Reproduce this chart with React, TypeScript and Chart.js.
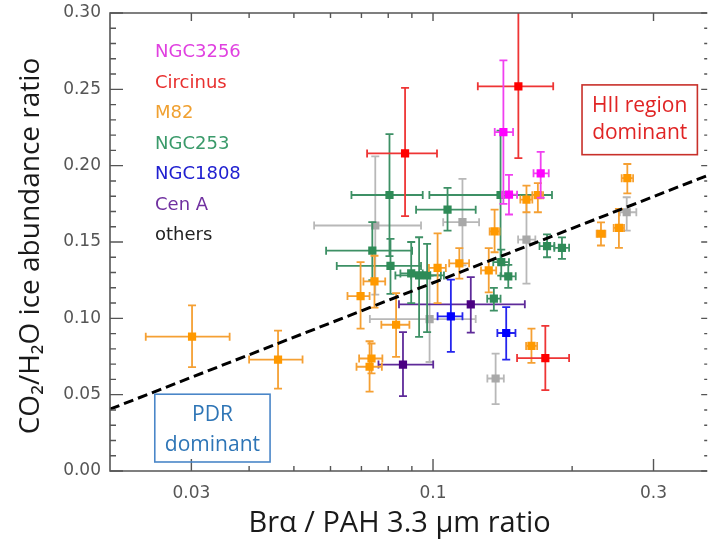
import React, { useEffect, useRef } from "react";
import { Chart, registerables } from "chart.js";
Chart.register(...registerables);

// each row: [x, y, xLow, xHigh, yLow, yHigh]
const ngc3256 = [
  [0.142, 0.222, 0.136, 0.149, 0.175, 0.269],
  [0.146, 0.181, 0.141, 0.152, 0.168, 0.194],
  [0.171, 0.195, 0.165, 0.178, 0.179, 0.209],
];
const circinus = [
  [0.153, 0.252, 0.125, 0.182, 0.205, 0.31],
  [0.087, 0.208, 0.072, 0.102, 0.167, 0.251],
  [0.175, 0.074, 0.152, 0.197, 0.053, 0.095],
];
const m82 = [
  [0.0301, 0.088, 0.0239, 0.0363, 0.068, 0.1085],
  [0.0462, 0.073, 0.04, 0.0522, 0.054, 0.092],
  [0.0697, 0.1146, 0.0653, 0.0729, 0.0933, 0.1368],
  [0.0747, 0.1242, 0.0707, 0.0788, 0.107, 0.141],
  [0.0736, 0.0737, 0.0692, 0.0777, 0.064, 0.0835],
  [0.0729, 0.0683, 0.0683, 0.0775, 0.052, 0.085],
  [0.0832, 0.0958, 0.0773, 0.0889, 0.0747, 0.1165],
  [0.1023, 0.133, 0.098, 0.1066, 0.11, 0.1556],
  [0.114, 0.136, 0.1084, 0.1197, 0.126, 0.146],
  [0.132, 0.1314, 0.127, 0.137, 0.117, 0.146],
  [0.1359, 0.1569, 0.1326, 0.1393, 0.1433, 0.1712],
  [0.1593, 0.1778, 0.1545, 0.164, 0.1695, 0.1869],
  [0.1686, 0.1807, 0.164, 0.173, 0.1695, 0.1886],
  [0.2633, 0.1918, 0.256, 0.271, 0.1819, 0.2011],
  [0.2525, 0.1592, 0.246, 0.259, 0.1462, 0.1717],
  [0.2309, 0.1554, 0.226, 0.236, 0.1477, 0.1629],
  [0.1633, 0.0819, 0.159, 0.168, 0.0708, 0.0933],
];
const ngc253 = [
  [0.0805, 0.1808, 0.0666, 0.095, 0.1407, 0.2207],
  [0.1075, 0.1712, 0.0919, 0.1237, 0.1575, 0.1854],
  [0.14, 0.1808, 0.0982, 0.1809, 0.1379, 0.2229],
  [0.0739, 0.1443, 0.0587, 0.0901, 0.125, 0.163],
  [0.0809, 0.1343, 0.0619, 0.0942, 0.116, 0.152],
  [0.0933, 0.1281, 0.0829, 0.104, 0.0878, 0.1531],
  [0.0971, 0.1281, 0.0897, 0.1056, 0.091, 0.1488],
  [0.0897, 0.1294, 0.085, 0.095, 0.11, 0.15],
  [0.1405, 0.1368, 0.135, 0.146, 0.128, 0.145],
  [0.1455, 0.1275, 0.14, 0.151, 0.12, 0.135],
  [0.1354, 0.1129, 0.131, 0.14, 0.105, 0.12],
  [0.1765, 0.1473, 0.17, 0.183, 0.14, 0.155],
  [0.1901, 0.1462, 0.183, 0.197, 0.139, 0.153],
];
const ngc1808 = [
  [0.1093, 0.1013, 0.1023, 0.1158, 0.078, 0.1253],
  [0.144, 0.0904, 0.1378, 0.1508, 0.073, 0.1074],
];
const cenA = [
  [0.1207, 0.1092, 0.0844, 0.158, 0.0907, 0.127],
  [0.0861, 0.0697, 0.0762, 0.1001, 0.049, 0.091],
];
const others = [
  [0.075, 0.1608, 0.0553, 0.0942, 0.1155, 0.2061],
  [0.1158, 0.163, 0.1052, 0.1258, 0.1347, 0.1913],
  [0.1593, 0.1516, 0.1528, 0.1665, 0.1227, 0.1805],
  [0.2625, 0.1695, 0.2537, 0.2754, 0.1575, 0.1793],
  [0.0983, 0.0995, 0.073, 0.1237, 0.0714, 0.1276],
  [0.1366, 0.0606, 0.1311, 0.1423, 0.0438, 0.0769],
];

const fitX = [0.02, 0.392];
const fitY = [0.0405, 0.1935];

const seriesNames = ["NGC3256", "Circinus", "M82", "NGC253", "NGC1808", "Cen A", "others"];
const seriesRows = [ngc3256, circinus, m82, ngc253, ngc1808, cenA, others];
const markerColors = ["#FF00FF", "#FF0000", "#FF9900", "#2E8B57", "#0000FF", "#4B0082", "#A8A8A8"];
const barColors = ["#F040F0", "#EE3535", "#F5A033", "#3D9065", "#2525EE", "#5E2A99", "#B8B8B8"];
const legendColors = ["#E040E0", "#E8302F", "#F0A030", "#3A9A6A", "#2020D0", "#7030A0", "#222222"];

const xMajorTicks = [0.03, 0.1, 0.3];
const xMinorTicks = [0.04, 0.05, 0.06, 0.07, 0.08, 0.09, 0.2];
const yMajorTicks = [0, 0.05, 0.1, 0.15, 0.2, 0.25, 0.3];

const xTitle = "Brα / PAH 3.3 μm ratio";
const yTitle = "CO₂/H₂O ice abundance ratio";

const errorBarPlugin = {
  id: "errorBars",
  beforeDatasetDraw(chart: any, args: any) {
    const ds: any = chart.data.datasets[args.index];
    if (!ds.errs) return;
    const { ctx, chartArea } = chart;
    const xs = chart.scales.x;
    const ys = chart.scales.y;
    ctx.save();
    ctx.beginPath();
    ctx.rect(chartArea.left, chartArea.top, chartArea.right - chartArea.left, chartArea.bottom - chartArea.top);
    ctx.clip();
    ctx.strokeStyle = ds.barColor;
    ctx.lineWidth = 1.8;
    const cap = 4;
    for (const r of ds.errs) {
      const px = xs.getPixelForValue(r[0]);
      const py = ys.getPixelForValue(r[1]);
      const x0 = xs.getPixelForValue(r[2]);
      const x1 = xs.getPixelForValue(r[3]);
      const y0 = ys.getPixelForValue(r[4]);
      const y1 = ys.getPixelForValue(r[5]);
      ctx.beginPath();
      ctx.moveTo(x0, py); ctx.lineTo(x1, py);
      ctx.moveTo(x0, py - cap); ctx.lineTo(x0, py + cap);
      ctx.moveTo(x1, py - cap); ctx.lineTo(x1, py + cap);
      ctx.moveTo(px, y0); ctx.lineTo(px, y1);
      ctx.moveTo(px - cap, y0); ctx.lineTo(px + cap, y0);
      ctx.moveTo(px - cap, y1); ctx.lineTo(px + cap, y1);
      ctx.stroke();
    }
    ctx.restore();
  },
};

const decorPlugin = {
  id: "decor",
  afterDraw(chart: any) {
    const { ctx, chartArea } = chart;
    const xs = chart.scales.x;
    const ys = chart.scales.y;
    const L = chartArea.left, R = chartArea.right, T = chartArea.top, B = chartArea.bottom;
    ctx.save();
    // frame
    ctx.strokeStyle = "#555555";
    ctx.lineWidth = 1.6;
    ctx.beginPath();
    ctx.moveTo(R, T); ctx.lineTo(L, T); ctx.lineTo(L, B); ctx.lineTo(R, B);
    ctx.stroke();
    // x ticks (bottom & top, inward)
    ctx.lineWidth = 1.4;
    ctx.beginPath();
    for (const v of xMajorTicks) {
      const p = xs.getPixelForValue(v);
      ctx.moveTo(p, B); ctx.lineTo(p, B - 12);
      ctx.moveTo(p, T); ctx.lineTo(p, T + 8);
    }
    for (const v of xMinorTicks) {
      const p = xs.getPixelForValue(v);
      ctx.moveTo(p, B); ctx.lineTo(p, B - 5);
      ctx.moveTo(p, T); ctx.lineTo(p, T + 5);
    }
    // y ticks (left & right, inward)
    for (let i = 0; i <= 30; i++) {
      const v = i / 100;
      const p = ys.getPixelForValue(v);
      const major = i % 5 === 0;
      ctx.moveTo(L, p); ctx.lineTo(L + (major ? 13 : 6), p);
      ctx.moveTo(R, p); ctx.lineTo(R - (major ? 6 : 3), p);
    }
    ctx.stroke();

    // legend text
    ctx.font = '18px "DejaVu Sans"';
    ctx.textAlign = "left";
    ctx.textBaseline = "middle";
    seriesNames.forEach((n, i) => {
      ctx.fillStyle = legendColors[i];
      ctx.fillText(n, L + 45, T + 39.5 + i * 30.5);
    });

    // region boxes
    const bx = (a: number, b: number, c: number, d: number) => [
      xs.getPixelForValue(a), ys.getPixelForValue(b), xs.getPixelForValue(c), ys.getPixelForValue(d),
    ];
    const h = bx(0.2101, 0.2529, 0.3733, 0.2072);
    ctx.strokeStyle = "#C8302A";
    ctx.lineWidth = 1.6;
    ctx.strokeRect(h[0], h[1], h[2] - h[0], h[3] - h[1]);
    ctx.fillStyle = "#E02424";
    ctx.font = '21px "Open Sans"';
    ctx.textAlign = "center";
    const hc = (h[0] + h[2]) / 2;
    ctx.fillText("HII region", hc, h[1] + 21);
    ctx.fillText("dominant", hc, h[1] + 48);

    const p = bx(0.025, 0.0503, 0.0444, 0.0059);
    ctx.strokeStyle = "#4A86C8";
    ctx.strokeRect(p[0], p[1], p[2] - p[0], p[3] - p[1]);
    ctx.fillStyle = "#2E75B6";
    const pc = (p[0] + p[2]) / 2;
    ctx.fillText("PDR", pc, p[1] + 21);
    ctx.fillText("dominant", pc, p[1] + 51);

    // axis titles
    ctx.fillStyle = "#1a1a1a";
    ctx.font = '29px "Open Sans"';
    ctx.textAlign = "center";
    ctx.textBaseline = "middle";
    ctx.fillText(xTitle, (L + R) / 2 - 9, B + 53);
    ctx.save();
    ctx.font = '28px "Open Sans"';
    ctx.translate(31, (T + B) / 2 + 4);
    ctx.rotate(-Math.PI / 2);
    ctx.fillText(yTitle, 0, 0);
    ctx.restore();
    ctx.restore();
  },
};

export default function App() {
  const ref = useRef<HTMLCanvasElement | null>(null);
  useEffect(() => {
    if (!ref.current) return;
    const datasets: any[] = [
      {
        type: "line",
        label: "fit",
        data: fitX.map((x, i) => ({ x, y: fitY[i] })),
        borderColor: "#000000",
        borderWidth: 3,
        borderDash: [10, 5],
        pointRadius: 0,
        fill: false,
      },
    ];
    seriesRows.forEach((rows, i) => {
      datasets.push({
        type: "scatter",
        label: seriesNames[i],
        data: rows.map((r) => ({ x: r[0], y: r[1] })),
        errs: rows,
        barColor: barColors[i],
        backgroundColor: markerColors[i],
        borderColor: markerColors[i],
        borderWidth: 0,
        pointStyle: "rect",
        pointRadius: 5.8,
      });
    });
    const chart = new Chart(ref.current, {
      type: "scatter",
      data: { datasets },
      options: {
        responsive: false,
        animation: false,
        layout: { padding: { top: 13, left: 0, right: 0, bottom: 0 } },
        plugins: { legend: { display: false }, tooltip: { enabled: false } },
        scales: {
          x: {
            type: "logarithmic",
            min: 0.02,
            max: 0.392,
            grid: { display: false },
            border: { display: false },
            afterBuildTicks: (s: any) => {
              s.ticks = xMajorTicks.map((v) => ({ value: v }));
            },
            afterFit: (s: any) => {
              s.height = 68;
            },
            ticks: {
              autoSkip: false,
              maxRotation: 0,
              padding: 4,
              color: "#555555",
              font: { family: "DejaVu Sans", size: 17 },
              callback: (v: any) => String(v),
            },
          },
          y: {
            type: "linear",
            min: 0,
            max: 0.3,
            grid: { display: false },
            border: { display: false },
            afterBuildTicks: (s: any) => {
              s.ticks = yMajorTicks.map((v) => ({ value: v }));
            },
            afterFit: (s: any) => {
              s.width = 110;
            },
            ticks: {
              padding: 1,
              color: "#555555",
              font: { family: "DejaVu Sans", size: 17 },
              callback: (v: any) => Number(v).toFixed(2),
            },
          },
        },
      },
      plugins: [errorBarPlugin, decorPlugin],
    } as any);
    return () => chart.destroy();
  }, []);
  return (
    <div style={{ position: "absolute", left: 0, top: 0, width: 713, height: 539, background: "#fff" }}>
      <canvas ref={ref} width={713} height={539} />
    </div>
  );
}
